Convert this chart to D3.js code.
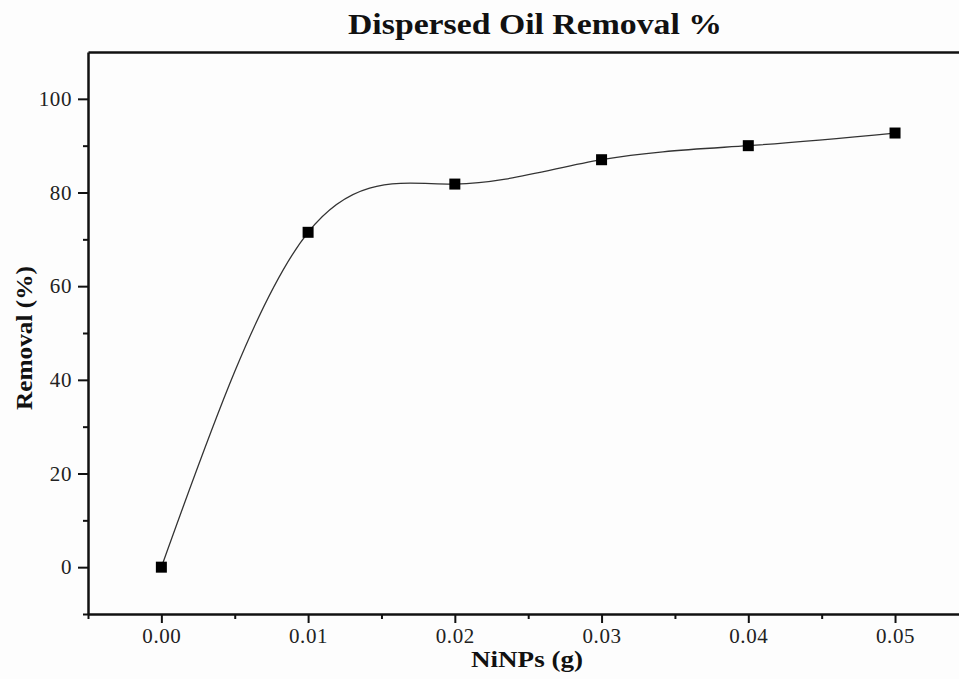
<!DOCTYPE html>
<html><head><meta charset="utf-8">
<script src="https://cdn.jsdelivr.net/npm/d3@7"></script>
<style>body{margin:0;background:#fdfdfd}svg{display:block}</style>
</head><body>
<script>
const xValues = [0.00, 0.01, 0.02, 0.03, 0.04, 0.05];
const removal = [0, 71.5, 81.8, 87.0, 90.0, 92.7];
const xTicks = [0.00, 0.01, 0.02, 0.03, 0.04, 0.05];
const xMinorTicks = [-0.005, 0.005, 0.015, 0.025, 0.035, 0.045];
const yTicks = [0, 20, 40, 60, 80, 100];
const yMinorTicks = [-10, 10, 30, 50, 70, 90];
const titleText = "Dispersed Oil Removal %";
const xLabel = "NiNPs (g)";
const yLabel = "Removal (%)";

const W = 959, H = 679;
const svg = d3.select("body").append("svg").attr("width", W).attr("height", H);
svg.append("rect").attr("width", W).attr("height", H).attr("fill", "#fdfdfd");

const x = d3.scaleLinear().domain([-0.005, 0.055]).range([88, 968.4]);
const y = d3.scaleLinear().domain([-10, 110]).range([614, 52]);

const serif = "'Liberation Serif','Times New Roman',serif";

// line
const line = d3.line().x((d, i) => x(xValues[i])).y(d => y(d)).curve(d3.curveNatural);
svg.append("path").datum(removal).attr("d", line)
  .attr("fill", "none").attr("stroke", "#333").attr("stroke-width", 1.3);

// markers
svg.selectAll("rect.m").data(removal).join("rect").attr("class", "m")
  .attr("x", (d, i) => x(xValues[i]) - 5.5).attr("y", d => y(d) - 5.5)
  .attr("width", 11).attr("height", 11).attr("fill", "#000");

// axes
const xAxis = d3.axisBottom(x).tickValues(xTicks).tickFormat(d3.format(".2f")).tickSize(9).tickSizeOuter(0).tickPadding(5);
svg.append("g").attr("transform", `translate(0,${y(-10)})`).call(xAxis);
const xMinor = d3.axisBottom(x).tickValues(xMinorTicks).tickFormat("").tickSize(5).tickSizeOuter(0);
svg.append("g").attr("transform", `translate(0,${y(-10)})`).call(xMinor).select(".domain").remove();

const yAxis = d3.axisLeft(y).tickValues(yTicks).tickSize(10).tickSizeOuter(0).tickPadding(6);
svg.append("g").attr("transform", `translate(${x(-0.005)},0)`).call(yAxis);
const yMinor = d3.axisLeft(y).tickValues(yMinorTicks).tickFormat("").tickSize(5).tickSizeOuter(0);
svg.append("g").attr("transform", `translate(${x(-0.005)},0)`).call(yMinor).select(".domain").remove();

// top axis line
const xTop = d3.axisTop(x).tickValues([]).tickSizeOuter(0);
svg.append("g").attr("transform", `translate(0,${y(110)})`).call(xTop);

svg.selectAll(".domain").attr("stroke", "#111").attr("stroke-width", 2.5);
svg.selectAll(".tick line").attr("stroke", "#111").attr("stroke-width", 2);
svg.selectAll(".tick text").attr("font-family", serif).attr("font-size", 21)
  .attr("letter-spacing", 0.6).attr("fill", "#222");

// title & labels
svg.append("text").attr("x", 535).attr("y", 34).attr("text-anchor", "middle")
  .attr("font-family", serif).attr("font-weight", "bold").attr("font-size", 30)
  .attr("textLength", 374).attr("lengthAdjust", "spacingAndGlyphs")
  .attr("fill", "#111").text(titleText);
svg.append("text").attr("x", 527).attr("y", 667).attr("text-anchor", "middle")
  .attr("font-family", serif).attr("font-weight", "bold").attr("font-size", 23)
  .attr("textLength", 112).attr("lengthAdjust", "spacingAndGlyphs")
  .attr("fill", "#111").text(xLabel);
svg.append("text").attr("transform", "translate(32,338) rotate(-90)").attr("text-anchor", "middle")
  .attr("font-family", serif).attr("font-weight", "bold").attr("font-size", 23)
  .attr("textLength", 144).attr("lengthAdjust", "spacingAndGlyphs")
  .attr("fill", "#111").text(yLabel);
</script>
</body></html>
